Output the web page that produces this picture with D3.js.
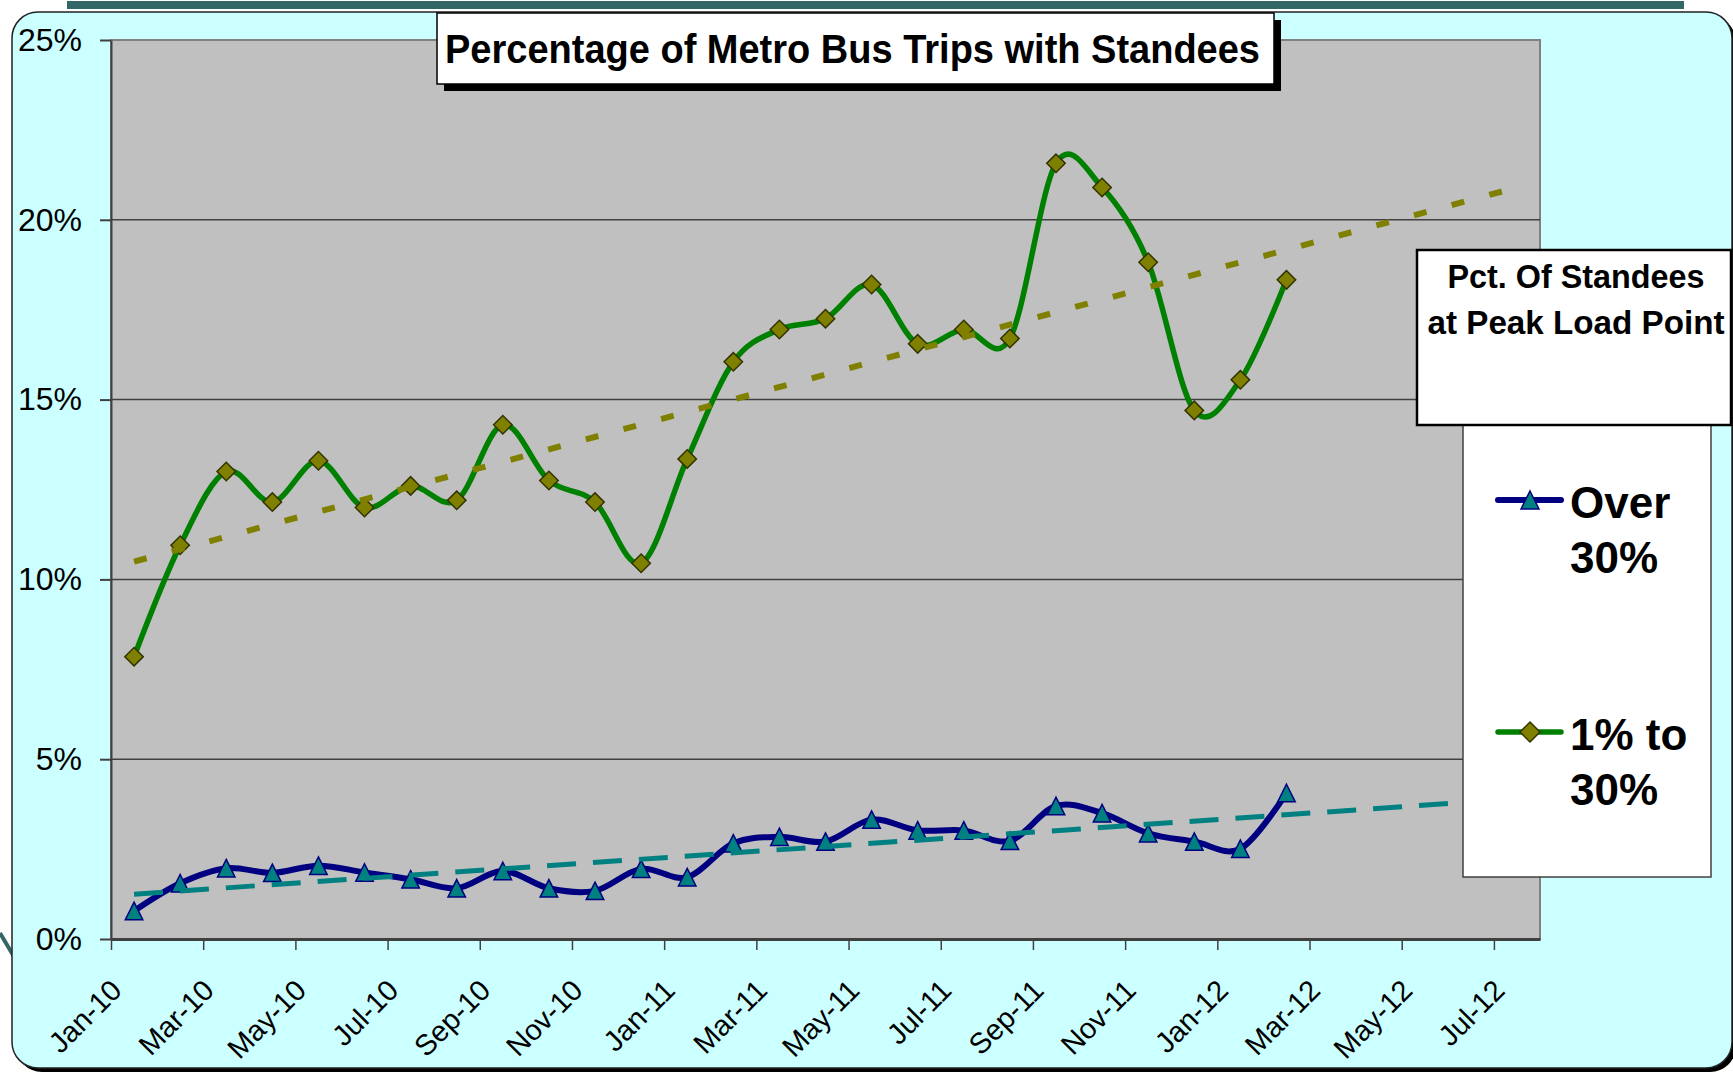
<!DOCTYPE html>
<html>
<head>
<meta charset="utf-8">
<title>Percentage of Metro Bus Trips with Standees</title>
<script src="https://d3js.org/d3.v7.min.js"></script>
<style>
  body { margin: 0; background: white; }
  svg { display: block; font-family: "Liberation Sans", Arial, sans-serif; }
</style>
</head>
<body>
<svg id="chart" width="1733" height="1073"></svg>
<script>
  // monthly readings, in percent
  var months = ["2010-01", "2010-02", "2010-03", "2010-04", "2010-05", "2010-06",
    "2010-07", "2010-08", "2010-09", "2010-10", "2010-11", "2010-12",
    "2011-01", "2011-02", "2011-03", "2011-04", "2011-05", "2011-06",
    "2011-07", "2011-08", "2011-09", "2011-10", "2011-11", "2011-12",
    "2012-01", "2012-02"];
  var over30 = [0.78, 1.55, 1.97, 1.84, 2.04, 1.85, 1.66, 1.41, 1.89, 1.41, 1.34, 1.95,
    1.72, 2.66, 2.84, 2.71, 3.32, 3.02, 3.02, 2.73, 3.70, 3.50, 2.94, 2.71, 2.51, 4.06];
  var oneTo30 = [7.85, 10.95, 13.0, 12.15, 13.3, 12.0, 12.6, 12.2, 14.3, 12.75, 12.15, 10.45,
    13.35, 16.05, 16.95, 17.25, 18.2, 16.55, 16.95, 16.7, 21.57, 20.9, 18.82, 14.7, 15.55, 18.33];
  var yTicks = [0, 5, 10, 15, 20, 25];
  var xTickLabels = ["Jan-10", "Mar-10", "May-10", "Jul-10", "Sep-10", "Nov-10",
    "Jan-11", "Mar-11", "May-11", "Jul-11", "Sep-11", "Nov-11",
    "Jan-12", "Mar-12", "May-12", "Jul-12"];
  var axisStart = "2010-01", axisEnd = "2012-08";   // month axis, one slot per month
  var trendForward = 4.7;                           // months past the last reading
  var chartTitle = "Percentage of Metro Bus Trips with Standees";
  var legendTitle = ["Pct. Of Standees", "at Peak Load Point"];
  var legendLabels = [["Over", "30%"], ["1% to", "30%"]];

  var svg = d3.select("#chart");
  var parseYM = d3.timeParse("%Y-%m");
  var t0 = parseYM(axisStart);
  var monthIndex = d => d3.timeMonth.count(t0, d);
  var slots = monthIndex(parseYM(axisEnd));
  // readings sit in the middle of their month slot
  var pos = months.map(m => monthIndex(parseYM(m)) + 0.5);
  var tickPos = xTickLabels.map(l => monthIndex(d3.timeParse("%b-%y")(l)));

  var x = d3.scaleLinear().domain([0, slots]).range([111, 1540]);
  var y = d3.scaleLinear().domain([0, 25]).range([939, 40]);

  // slide decoration + rounded background
  svg.append("line").attr("x1", 0).attr("y1", 933).attr("x2", 16).attr("y2", 960)
    .attr("stroke", "#336666").attr("stroke-width", 4);
  svg.append("rect").attr("x", 67).attr("y", 1).attr("width", 1617).attr("height", 8)
    .attr("fill", "#336666");
  svg.append("rect").attr("x", 16).attr("y", 16).attr("width", 1720).attr("height", 1056)
    .attr("rx", 26).attr("fill", "black");
  svg.append("rect").attr("x", 12).attr("y", 12).attr("width", 1720).attr("height", 1056)
    .attr("rx", 26).attr("fill", "#CCFFFF").attr("stroke", "#222").attr("stroke-width", 1.5);

  // plot area
  svg.append("rect")
    .attr("x", x.range()[0]).attr("y", y(25))
    .attr("width", x.range()[1] - x.range()[0]).attr("height", y(0) - y(25))
    .attr("fill", "#C0C0C0").attr("stroke", "#808080").attr("stroke-width", 2);

  svg.append("g").selectAll("line")
    .data(yTicks.filter(v => v > 0 && v < 25))
    .join("line")
    .attr("x1", x.range()[0]).attr("x2", x.range()[1])
    .attr("y1", d => y(d)).attr("y2", d => y(d))
    .attr("stroke", "#404040").attr("stroke-width", 1.5);

  var yAxis = svg.append("g")
    .attr("transform", "translate(" + x.range()[0] + ",0)")
    .call(d3.axisLeft(y).tickValues(yTicks).tickSize(11).tickSizeOuter(0)
      .tickPadding(18).tickFormat(d => d + "%"));
  yAxis.attr("font-size", 32).attr("font-family", null);
  yAxis.selectAll("text").attr("fill", "black");
  yAxis.selectAll("path, line").attr("stroke", "#404040").attr("stroke-width", 2);

  var xAxis = svg.append("g")
    .attr("transform", "translate(0," + y(0) + ")")
    .call(d3.axisBottom(x).tickValues(tickPos).tickSize(11).tickSizeOuter(0)
      .tickFormat((d, i) => xTickLabels[i]));
  xAxis.attr("font-size", 29).attr("font-family", null);
  xAxis.select("path").attr("stroke", "#404040").attr("stroke-width", 3);
  xAxis.selectAll("line").attr("stroke", "#404040").attr("stroke-width", 1.5);
  xAxis.selectAll("text")
    .attr("x", 0).attr("y", 0).attr("dy", null)
    .attr("fill", "black").attr("text-anchor", "end")
    .attr("transform", "translate(12,53) rotate(-45)");

  // series
  var series = [
    { values: over30, line: "#000080", width: 6, marker: "triangle",
      fill: "#008080", edge: "#000080", trend: "#008080", trendWidth: 5, dash: "29,17" },
    { values: oneTo30, line: "#008000", width: 5.5, marker: "diamond",
      fill: "#808000", edge: "#333300", trend: "#808000", trendWidth: 6, dash: "13,26" }
  ];

  var triangle = {
    draw: function (ctx, size) {
      var h = Math.sqrt(size) / 2;
      ctx.moveTo(0, -h); ctx.lineTo(h, h); ctx.lineTo(-h, h); ctx.closePath();
    }
  };
  function markerPath(kind, size) {
    return kind === "triangle" ? d3.symbol(triangle, size || 306)()
      : d3.symbol(d3.symbolSquare, size || 170)();
  }
  function markerRot(kind) { return kind === "diamond" ? " rotate(45)" : ""; }

  var line = d3.line()
    .x((d, i) => x(pos[i]))
    .y(d => y(d))
    .curve(d3.curveCardinal.tension(0));

  series.forEach(function (s) {
    svg.append("path").datum(s.values)
      .attr("d", line)
      .attr("fill", "none").attr("stroke", s.line).attr("stroke-width", s.width)
      .attr("stroke-linejoin", "round").attr("stroke-linecap", "round");

    svg.append("g").selectAll("path")
      .data(s.values).join("path")
      .attr("d", markerPath(s.marker))
      .attr("transform", (d, i) => "translate(" + x(pos[i]) + "," + y(d) + ")" + markerRot(s.marker))
      .attr("fill", s.fill).attr("stroke", s.edge).attr("stroke-width", 1.5);
  });

  // linear trendlines (least squares), extended forward
  series.forEach(function (s) {
    var mx = d3.mean(pos), my = d3.mean(s.values);
    var sxy = d3.sum(pos, (v, i) => (v - mx) * (s.values[i] - my));
    var sxx = d3.sum(pos, v => (v - mx) * (v - mx));
    var slope = sxy / sxx, icpt = my - slope * mx;
    var ends = [pos[0], pos[pos.length - 1] + trendForward];
    svg.append("line")
      .attr("x1", x(ends[0])).attr("y1", y(icpt + slope * ends[0]))
      .attr("x2", x(ends[1])).attr("y2", y(icpt + slope * ends[1]))
      .attr("stroke", s.trend).attr("stroke-width", s.trendWidth)
      .attr("stroke-dasharray", s.dash);
  });

  // legend
  svg.append("rect").attr("x", 1463).attr("y", 425).attr("width", 248).attr("height", 452)
    .attr("fill", "white").attr("stroke", "#404040").attr("stroke-width", 1.5);
  svg.append("rect").attr("x", 1417).attr("y", 250).attr("width", 314).attr("height", 175)
    .attr("fill", "white").attr("stroke", "black").attr("stroke-width", 2.5);
  var ltLens = [257, 297];
  svg.append("g").selectAll("text").data(legendTitle).join("text")
    .attr("x", (d, i) => 1576 - ltLens[i] / 2)
    .attr("y", (d, i) => 288 + i * 46)
    .attr("textLength", (d, i) => ltLens[i]).attr("lengthAdjust", "spacingAndGlyphs")
    .attr("font-size", 34).attr("font-weight", "bold").text(d => d);

  var legendY = [500, 732];
  series.forEach(function (s, k) {
    var g = svg.append("g").attr("transform", "translate(0," + legendY[k] + ")");
    g.append("line").attr("x1", 1498).attr("x2", 1561)
      .attr("stroke", s.line).attr("stroke-width", s.width).attr("stroke-linecap", "round");
    g.append("path").attr("d", markerPath(s.marker, s.marker === "triangle" ? 324 : 200))
      .attr("transform", "translate(1530,0)" + markerRot(s.marker))
      .attr("fill", s.fill).attr("stroke", s.edge).attr("stroke-width", 1.5);
    g.selectAll("text").data(legendLabels[k]).join("text")
      .attr("x", 1570).attr("y", (d, i) => 18 + i * 55)
      .attr("font-size", 44).attr("font-weight", "bold").text(d => d);
  });

  // title
  svg.append("rect").attr("x", 444).attr("y", 20).attr("width", 837).attr("height", 71)
    .attr("fill", "black");
  svg.append("rect").attr("x", 437).attr("y", 13).attr("width", 837).attr("height", 71)
    .attr("fill", "white").attr("stroke", "black").attr("stroke-width", 1.5);
  svg.append("text").attr("x", 445).attr("y", 63)
    .attr("textLength", 815).attr("lengthAdjust", "spacingAndGlyphs")
    .attr("font-size", 40).attr("font-weight", "bold").text(chartTitle);
</script>
</body>
</html>
